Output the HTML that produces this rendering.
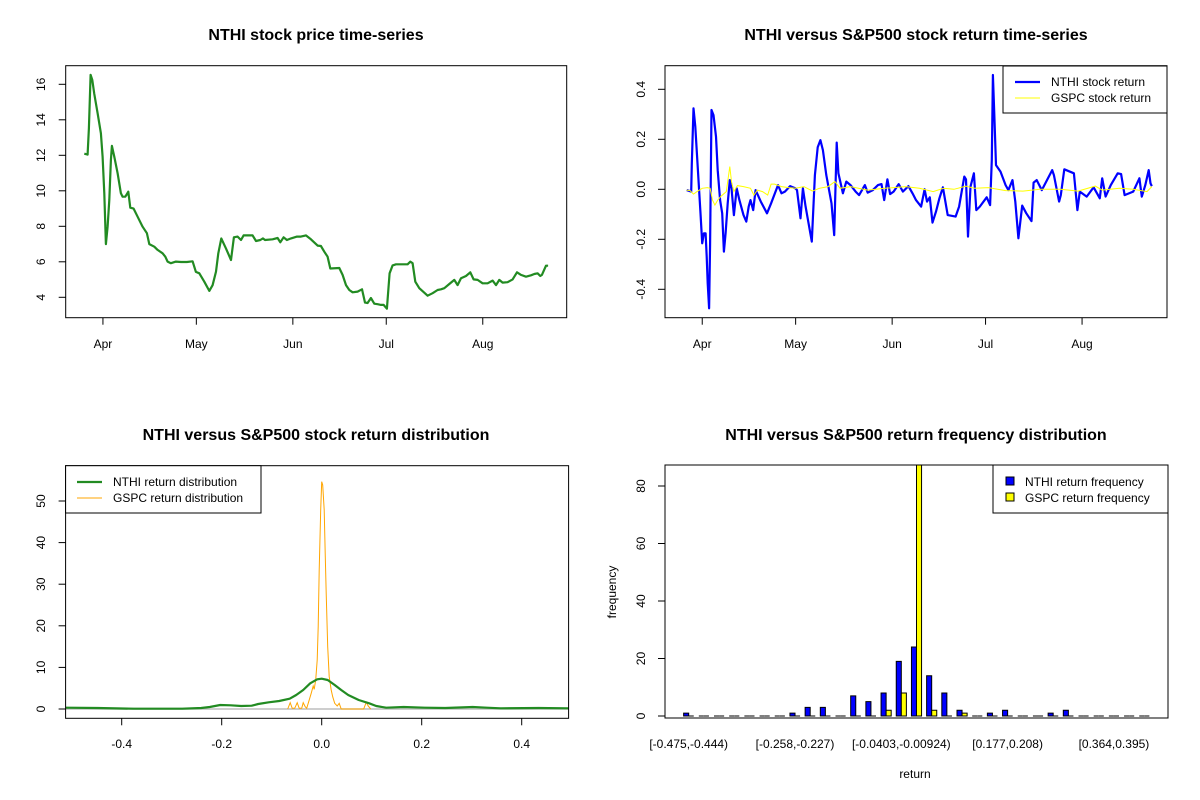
<!DOCTYPE html>
<html><head><meta charset="utf-8"><style>
body{margin:0;background:#fff;}
svg{display:block;font-family:"Liberation Sans",Arial,sans-serif;}
</style></head><body>
<svg id="c" width="1200" height="800" viewBox="0 0 1200 800"></svg>
<script>
const priceDays=[0,1.07,1.5,2.04,2.57,3.2,4.29,5.36,5.89,6.43,6.96,7.5,8.03,8.57,8.89,9.64,10.71,11.78,12.32,13.17,14.14,14.78,15.85,17.14,18.74,20.13,20.88,22.49,23.56,25.17,26.02,26.77,27.84,29.45,31.06,32.98,34.8,35.87,36.94,38.55,40.16,41.23,42.3,43.05,44.01,45.51,47.12,48.08,49.26,50.33,51.18,54.08,55.15,56.54,57.39,58.04,60.5,62.1,62.96,64.03,65.1,66.39,68.32,69.6,71.2,72.81,74.95,76.02,77.09,78.17,79.02,81.91,82.98,84.06,85.13,86.2,87.8,89.2,90.16,91.01,92.08,93.16,94.23,95.3,96.16,97.22,98.08,99.05,100.12,103.86,104.72,105.47,106.33,107.61,109.22,110.29,111.89,113.5,114.57,115.64,117.25,118.85,119.92,121,122.6,123.99,125.06,126.35,127.95,129.56,131.17,132.24,133.31,134.38,135.99,137.59,138.99,140.27,141.88,143.48,144.55,145.62,146.48,147.01,148.3,149];
const priceVals=[12.09,12.04,13.52,16.53,16.24,15.49,14.37,13.24,11.92,9.86,7.0,7.98,9.48,11.74,12.53,11.92,10.99,9.86,9.67,9.67,9.95,9.05,9.0,8.54,7.98,7.61,7.0,6.85,6.67,6.48,6.29,6.01,5.92,6.01,5.99,5.99,6.03,5.43,5.35,4.88,4.36,4.68,5.45,6.48,7.31,6.76,6.1,7.38,7.42,7.23,7.49,7.49,7.17,7.23,7.32,7.23,7.27,7.34,7.1,7.38,7.23,7.32,7.42,7.42,7.49,7.27,6.91,6.89,6.57,6.29,5.62,5.65,5.26,4.69,4.41,4.28,4.32,4.45,3.7,3.68,3.96,3.64,3.61,3.57,3.57,3.36,5.35,5.8,5.86,5.86,6.01,5.92,4.88,4.51,4.26,4.09,4.23,4.41,4.45,4.51,4.75,4.98,4.69,5.07,5.2,5.41,5.01,4.98,4.79,4.79,4.94,4.69,4.98,4.83,4.85,5.01,5.41,5.26,5.16,5.24,5.31,5.35,5.2,5.26,5.78,5.78];
const nthiDays=[0,1.44,1.66,2.21,2.76,3.32,3.87,4.43,4.98,5.53,6.09,6.42,6.75,7.19,7.53,7.97,8.63,9.41,9.96,10.74,11.4,11.96,12.51,13.18,13.84,14.39,15.17,16.06,16.94,18.27,19.16,19.93,20.49,21.37,22.15,23.81,25.8,27.13,29.35,30.45,31.56,33.22,34.88,35.44,36.55,37.32,38.21,40.2,41.2,42.08,42.97,43.75,44.85,46.51,47.4,48.18,48.73,50.17,51.28,52.61,54.27,55.38,57.26,58.14,59.8,61.47,62.57,63.46,64.46,65.34,66.45,68.11,69.44,71.22,72.54,73.65,75.31,76.42,77.19,78.08,78.97,80.07,81.18,82.29,83.84,86.39,87.49,89.16,89.71,90.37,91.15,92.26,93.03,94.14,96.36,97.46,98.02,98.35,98.79,99.35,100.79,102.45,103.33,104.66,105.55,106.55,107.76,109.09,110.75,111.42,112.42,114.08,117.4,117.95,119.62,120.17,121.28,124.38,125.49,126.26,128.48,130.7,132.69,133.46,134.57,136.23,138.45,139.55,140.66,143.43,145.43,146.2,147.3,148.41,148.97,149.41];
const nthiRet=[-0.003,-0.009,0.101,0.324,0.251,0.137,0.024,-0.096,-0.216,-0.176,-0.176,-0.269,-0.376,-0.476,-0.216,0.317,0.297,0.211,0.077,-0.043,-0.096,-0.249,-0.176,-0.056,0.037,0.004,-0.103,0.004,-0.043,-0.103,-0.129,-0.069,-0.043,-0.083,-0.003,-0.049,-0.096,-0.056,0.017,-0.016,-0.009,0.013,0.004,-0.003,-0.116,0.004,-0.069,-0.209,0.057,0.168,0.197,0.157,0.057,-0.056,-0.183,0.187,0.064,-0.016,0.031,0.017,-0.009,-0.023,0.017,-0.013,-0.003,0.017,0.021,-0.043,0.04,-0.019,-0.009,0.021,-0.009,0.013,-0.016,-0.043,-0.069,0,-0.049,-0.032,-0.133,-0.089,-0.036,0.008,-0.103,-0.109,-0.069,0.051,0.04,-0.189,0.011,0.064,-0.083,-0.069,-0.032,-0.063,0.117,0.457,0.311,0.097,0.071,0.017,-0.003,0.037,-0.049,-0.196,-0.065,-0.096,-0.127,0.027,0.037,-0.003,0.077,0.057,-0.049,-0.023,0.08,0.064,-0.083,-0.009,-0.029,0.008,-0.036,0.044,-0.029,0.017,0.064,0.061,-0.023,-0.009,0.044,-0.029,0.017,0.077,0.024,0.013];
const gspcDays=[0,1.1,2.21,3.32,4.98,6.64,7.53,8.3,9.08,9.96,11.07,12.73,13.84,14.39,15.17,16.28,18.27,20.49,21.59,22.7,24.36,26.02,27.13,28.24,30.45,32.67,34.88,37.65,40.42,42.64,45.41,47.62,49.28,52.61,58.14,63.68,70.33,74.76,79.19,82.51,85.83,89.71,92.48,96.91,102.45,107.99,113.53,120.17,125.71,131.25,133.46,139,143.43,147.86,149.41];
const gspcRet=[-0.003,-0.005,-0.019,-0.009,0.004,0.007,0.004,-0.043,-0.063,-0.043,-0.027,-0.009,0.091,0.031,-0.009,0.015,0.011,0.004,-0.023,-0.003,-0.009,-0.023,0.021,0.021,0.011,0.007,0.004,0.011,-0.007,0.004,0.011,0.031,0.004,0.011,-0.003,0.004,0.011,0.004,-0.009,0.004,0,0.013,0.004,0.007,-0.005,-0.007,0,0,-0.007,0.013,-0.003,0.004,0,-0.009,0.011];
const nthiDensX=[-0.512,-0.448,-0.376,-0.279,-0.241,-0.224,-0.203,-0.182,-0.161,-0.14,-0.127,-0.106,-0.085,-0.064,-0.051,-0.037,-0.023,-0.009,0,0.012,0.026,0.039,0.053,0.074,0.095,0.109,0.129,0.164,0.206,0.247,0.302,0.33,0.358,0.434,0.494];
const nthiDensY=[0.32,0.24,0.08,0.08,0.24,0.48,0.96,0.88,0.72,0.8,1.2,1.6,1.92,2.48,3.37,4.57,6.17,7.13,7.29,6.97,5.77,4.57,3.37,2.16,1.36,0.72,0.32,0.48,0.32,0.24,0.48,0.32,0.16,0.24,0.16];
const gspcDensX=[-0.068,-0.063,-0.059,-0.054,-0.049,-0.045,-0.04,-0.037,-0.033,-0.03,-0.026,-0.021,-0.017,-0.015,-0.012,-0.009,-0.007,-0.005,-0.002,0,0.002,0.005,0.007,0.009,0.012,0.015,0.019,0.022,0.026,0.031,0.035,0.039,0.084,0.089,0.093,0.098];
const gspcDensY=[0,1.52,0.16,0.16,1.52,0.16,0.16,1.52,0.56,0.16,1.76,3.77,5.53,4.73,6.97,11.78,19.79,33.41,47.84,54.65,53.85,47.84,37.42,27.8,14.98,7.77,4.57,2.96,1.36,0.72,1.36,0,0,1.6,0.72,0];
const binLabels=["[-0.475,-0.444)","","","","","","","[-0.258,-0.227)","","","","","","","[-0.0403,-0.00924)","","","","","","","[0.177,0.208)","","","","","","","[0.364,0.395)","",""];
const nthiFreq=[1,0,0,0,0,0,0,1,3,3,0,7,5,8,19,24,14,8,2,0,1,2,0,0,1,2,0,0,0,0,0];
const gspcFreq=[0,0,0,0,0,0,0,0,0,0,0,0,0,2,8,93,2,0,1,0,0,0,0,0,0,0,0,0,0,0,0];
const priceTicks=[4,6,8,10,12,14,16];
const retTicks=[-0.4,-0.2,0,0.2,0.4];
const densXTicks=[-0.4,-0.2,0,0.2,0.4];
const densYTicks=[0,10,20,30,40,50];
const freqTicks=[0,20,40,60,80];
const months=[["Apr",6],["May",36],["Jun",67],["Jul",97],["Aug",128]];

const NS="http://www.w3.org/2000/svg";
const svg=document.getElementById('c');
function el(tag,attrs,parent){const e=document.createElementNS(NS,tag);for(const k in attrs)e.setAttribute(k,attrs[k]);(parent||svg).appendChild(e);return e;}
function txt(s,x,y,attrs,parent){const t=el('text',Object.assign({x:x,y:y,'font-size':12,'text-anchor':'middle',fill:'#000'},attrs||{}),parent);t.textContent=s;return t;}
function lin(a,b,c,d){return (v)=>c+(v-a)/(b-a)*(d-c);}
function pathD(xs,ys,fx,fy){return xs.map((x,i)=>(i?'L':'M')+fx(x).toFixed(1)+' '+fy(ys[i]).toFixed(1)).join(' ');}
function timeX(off){return lin(-5.96,154.96,65.7+off,566.7+off);}
const TS=16;

// ===== Panel 1 =====
let g=el('g',{});

let t=txt('NTHI stock price time-series',316,40,{'font-size':TS,'font-weight':'bold'},g);

let fx=timeX(0), fy=lin(4,16,297.3,84.3);
let p=el('path',{d:pathD(priceDays,priceVals,fx,fy),fill:'none',stroke:'#228B22','stroke-width':2.2,'stroke-linejoin':'round'},g);

el('rect',{x:65.7,y:65.7,width:501,height:252,fill:'none',stroke:'#000','stroke-width':1},g);
function timeAxis(off,gg){const f=timeX(off);months.forEach(m=>{const x=f(m[1]);el('line',{x1:x,y1:317.7,x2:x,y2:324.7,stroke:'#000'},gg);const tt=txt(m[0],x,348,{},gg);});}
timeAxis(0,g);
function yAxis(ticks,fy,bx,lx,gg,fmt){ticks.forEach(v=>{const y=fy(v);el('line',{x1:bx,y1:y,x2:bx-7,y2:y,stroke:'#000'},gg);const tt=txt(fmt?fmt(v):String(v),lx,y,{transform:`rotate(-90 ${lx} ${y})`},gg);});}
yAxis(priceTicks,fy,65.7,45,g);

// ===== Panel 2 =====
g=el('g',{});

t=txt('NTHI versus S&P500 stock return time-series',916,40,{'font-size':TS,'font-weight':'bold'},g);

fx=timeX(599.3); fy=lin(0,0.4,189.3,89.3);
p=el('path',{d:pathD(nthiDays.map(d=>d+1),nthiRet,fx,fy),fill:'none',stroke:'#0000FF','stroke-width':2.2,'stroke-linejoin':'round'},g);

p=el('path',{d:pathD(gspcDays.map(d=>d+1),gspcRet,fx,fy),fill:'none',stroke:'#FFFF00','stroke-width':1},g);

el('rect',{x:665,y:65.7,width:502,height:252,fill:'none',stroke:'#000'},g);
timeAxis(599.3,g);
yAxis(retTicks,fy,665,645,g,v=>v.toFixed(1));
let lg=el('g',{},g);
el('rect',{x:1003,y:66,width:164,height:47,fill:'#fff',stroke:'#000'},lg);
el('line',{x1:1015,y1:82,x2:1040,y2:82,stroke:'#0000FF','stroke-width':2.2},lg);
el('line',{x1:1015,y1:98,x2:1040,y2:98,stroke:'#FFFF00','stroke-width':1},lg);
txt('NTHI stock return',1051,86,{'text-anchor':'start'},lg);
txt('GSPC stock return',1051,102,{'text-anchor':'start'},lg);

// ===== Panel 3 =====
g=el('g',{});

t=txt('NTHI versus S&P500 stock return distribution',316,440,{'font-size':TS,'font-weight':'bold'},g);

fx=lin(0,0.4,321.7,521.7); fy=lin(0,50,709,501);
el('line',{x1:65.6,y1:fy(0),x2:568.7,y2:fy(0),stroke:'#bebebe','stroke-width':1.5},g);
p=el('path',{d:pathD(gspcDensX,gspcDensY,fx,fy),fill:'none',stroke:'#FFA500','stroke-width':1},g);

p=el('path',{d:pathD(nthiDensX,nthiDensY,fx,fy),fill:'none',stroke:'#228B22','stroke-width':2.2,'stroke-linejoin':'round'},g);

el('rect',{x:65.6,y:465.7,width:503,height:252.6,fill:'none',stroke:'#000'},g);
densXTicks.forEach(v=>{const x=fx(v);el('line',{x1:x,y1:718.3,x2:x,y2:725.3,stroke:'#000'},g);const tt=txt(v.toFixed(1),x,748,{},g);});
yAxis(densYTicks,fy,65.6,45,g);
lg=el('g',{},g);
el('rect',{x:65.6,y:465.7,width:195.4,height:47.3,fill:'#fff',stroke:'#000'},lg);
el('line',{x1:77,y1:482,x2:102,y2:482,stroke:'#228B22','stroke-width':2.2},lg);
el('line',{x1:77,y1:498,x2:102,y2:498,stroke:'#FFA500','stroke-width':1},lg);
txt('NTHI return distribution',113,486,{'text-anchor':'start'},lg);
txt('GSPC return distribution',113,502,{'text-anchor':'start'},lg);

// ===== Panel 4 =====
g=el('g',{});

t=txt('NTHI versus S&P500 return frequency distribution',916,440,{'font-size':TS,'font-weight':'bold'},g);

const BL=665,BR=1168,BT=465,BB=718;
const uMin=-2.68,uMax=96.68;
fx=lin(uMin,uMax,BL,BR); fy=lin(0,20,716,658.5);
const cp=el('clipPath',{id:'cp4'},g);el('rect',{x:BL,y:BT,width:BR-BL,height:BB-BT},cp);
const bars=el('g',{'clip-path':'url(#cp4)'},g);
function drawBar(v,u,color,name){
  if(v>0){const r=el('rect',{x:fx(u),y:fy(v),width:fx(u+1)-fx(u),height:fy(0)-fy(v),fill:color,stroke:'#000','stroke-width':1},bars);
  
  }
  else{const l=el('line',{x1:fx(u),y1:fy(0),x2:fx(u+1),y2:fy(0),stroke:'#000','stroke-width':1},bars);
  
  }
}
nthiFreq.forEach((v,i)=>drawBar(v,3*i+1,'#0000FF','nthi-bar'));
gspcFreq.forEach((v,i)=>drawBar(v,3*i+2,'#FFFF00','gspc-bar'));
binLabels.forEach((s,i)=>{if(!s)return;const tt=txt(s,fx(3*i+2),748,{},g);});
el('rect',{x:BL,y:BT,width:BR-BL,height:BB-BT,fill:'none',stroke:'#000'},g);
yAxis(freqTicks,fy,BL,645,g);
t=txt('return',915,778,{},g);
t=txt('frequency',616,592,{transform:'rotate(-90 616 592)'},g);
lg=el('g',{},g);
el('rect',{x:993,y:465,width:175,height:48,fill:'#fff',stroke:'#000'},lg);
el('rect',{x:1006,y:477,width:8,height:8,fill:'#0000FF',stroke:'#000'},lg);
el('rect',{x:1006,y:493,width:8,height:8,fill:'#FFFF00',stroke:'#000'},lg);
txt('NTHI return frequency',1025,486,{'text-anchor':'start'},lg);
txt('GSPC return frequency',1025,502,{'text-anchor':'start'},lg);
</script>
</body></html>
